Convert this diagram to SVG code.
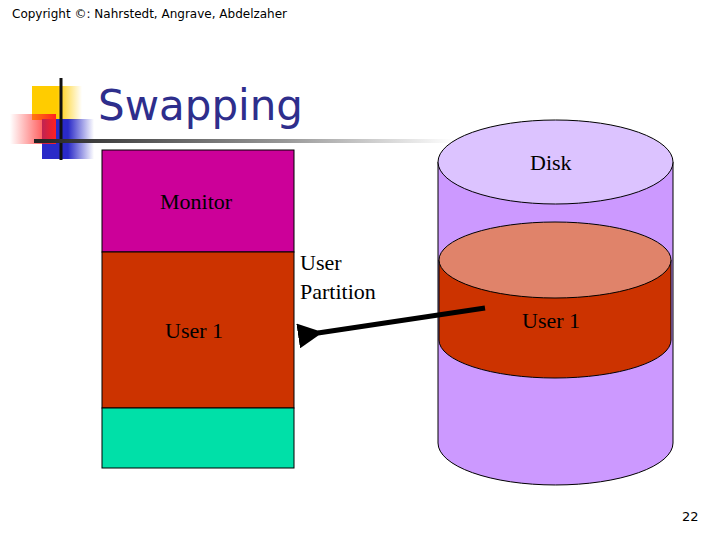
<svg xmlns="http://www.w3.org/2000/svg" width="720" height="540" viewBox="0 0 720 540">
<defs>
<style>
.t{font-family:"Liberation Serif",serif;font-size:22px;fill:#000}
.s{stroke:#000;stroke-width:1}
</style>
<linearGradient id="hl" x1="0" x2="1"><stop offset="0" stop-color="#222"/><stop offset="0.6" stop-color="#999"/><stop offset="1" stop-color="#fff"/></linearGradient>
<linearGradient id="yl" x1="0" x2="1"><stop offset="0.5" stop-color="#ffcc00"/><stop offset="1" stop-color="#ffcc00" stop-opacity="0"/></linearGradient>
<linearGradient id="bl" x1="0" x2="1"><stop offset="0.5" stop-color="#2a2ac8"/><stop offset="1" stop-color="#2a2ac8" stop-opacity="0"/></linearGradient>
<linearGradient id="rd" x1="1" x2="0"><stop offset="0" stop-color="#ff2020"/><stop offset="1" stop-color="#ff2020" stop-opacity="0"/></linearGradient>
<marker id="ah" markerWidth="5" markerHeight="5" refX="1" refY="2.5" orient="auto" markerUnits="strokeWidth"><path d="M5,0 L0,2.5 L5,5 Z" fill="#000"/></marker>
</defs>
<rect width="720" height="540" fill="#fff"/>
<text x="12" y="18" font-family="Tahoma,'DejaVu Sans',sans-serif" font-size="12">Copyright ©: Nahrstedt, Angrave, Abdelzaher</text>
<g id="logo">
<rect x="32" y="86" width="50" height="34" fill="url(#yl)"/>
<rect x="42" y="119" width="52" height="40" fill="url(#bl)"/>
<rect x="10" y="114" width="46" height="30" fill="url(#rd)"/>
<line x1="61" y1="78" x2="61" y2="160" stroke="#111" stroke-width="3"/>
<rect x="34" y="139" width="420" height="4" fill="url(#hl)"/>
</g>
<text x="98" y="120" font-family="Tahoma,'DejaVu Sans',sans-serif" font-size="42" fill="#2e2e8c">Swapping</text>
<g id="memory">
<rect x="102" y="150" width="192" height="102" fill="#cc0099" class="s"/>
<rect x="102" y="252" width="192" height="156" fill="#cc3300" class="s"/>
<rect x="102" y="408" width="192" height="60" fill="#00e0a8" class="s"/>
<text class="t" x="160" y="209">Monitor</text>
<text class="t" x="165" y="338">User 1</text>
</g>
<g id="disk">
<path d="M438,162 V443 A117.5,42 0 0 0 673,443 V162 Z" fill="#cc99ff" class="s"/>
<ellipse cx="555.5" cy="162" rx="117.5" ry="42" fill="#dcc3ff" class="s"/>
<text class="t" x="530" y="170">Disk</text>
</g>
<g id="user1disk">
<path d="M439,260 V340 A116,38 0 0 0 671,340 V260 Z" fill="#cc3300" class="s"/>
<ellipse cx="555" cy="260" rx="116" ry="38" fill="#e0836a" class="s"/>
<text class="t" x="522" y="328">User 1</text>
</g>
<text class="t" x="300" y="270">User</text>
<text class="t" x="300" y="299">Partition</text>
<g id="connectors">
<line x1="485" y1="308" x2="318" y2="333" stroke="#000" stroke-width="5" marker-end="url(#ah)"/>
</g>
<text x="682" y="521" font-family="Tahoma,'DejaVu Sans',sans-serif" font-size="13">22</text>
</svg>
